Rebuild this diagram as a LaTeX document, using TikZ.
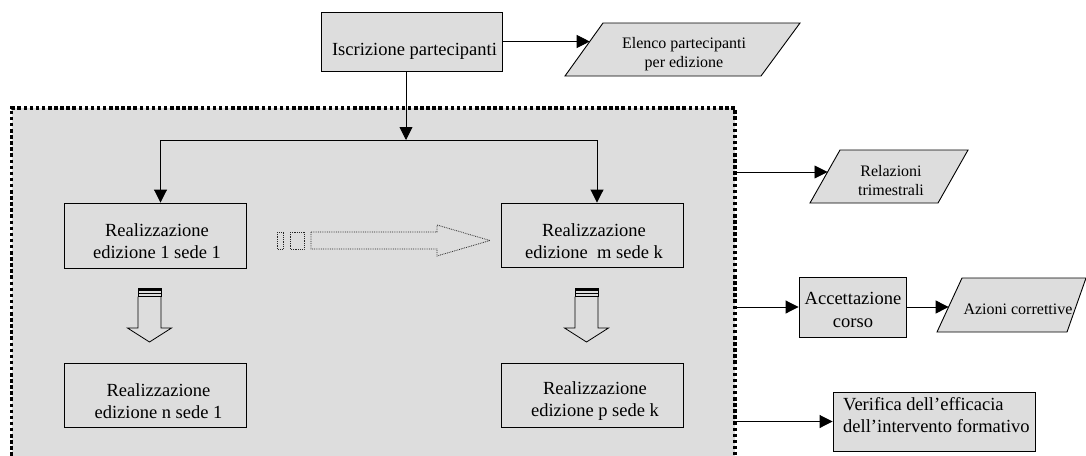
\documentclass[tikz,border=0pt]{standalone}
\usepackage{fontspec}
\setmainfont{Liberation Serif}
\usetikzlibrary{arrows.meta}
\definecolor{bg}{RGB}{221,221,221}
\begin{document}
\begin{tikzpicture}[x=1pt,y=-1pt,
  box/.style={draw=black, line width=0.9pt, inner sep=0pt},
  big/.style={font=\fontsize{18.5}{22.5}\selectfont, align=center, inner sep=0pt},
  small/.style={font=\fontsize{16}{19}\selectfont, align=center, inner sep=0pt},
  arr/.style={-{Triangle[length=13pt,width=13pt]}, line width=0.9pt},
  ln/.style={line width=0.9pt},
  para/.style={fill=bg, draw=black, line width=0.9pt, line join=miter},
  blk/.style={line width=0.8pt, line join=miter},
  dots/.style={densely dotted, line width=0.8pt, black!85}
]
\useasboundingbox (0,0) rectangle (1086,455);
\fill[white] (0,0) rectangle (1086,455);

% group background (dashed frame)
\node[draw=black, line width=3.5pt, dash pattern=on 3.5pt off 2.6pt, fill=bg,
      minimum width=723.5pt, minimum height=362pt, inner sep=0pt] (grp) at (373.25,289) {};

% top box
\node[box, fill=bg, minimum width=181pt, minimum height=59pt] (isc) at (411.5,41.5) {};
\node[big] (isct) at (414.5,51) {Iscrizione partecipanti};

% Elenco parallelogram
\filldraw[para] (565,76) -- (603,23) -- (800,23) -- (761,76) -- cycle;
\node[small] (elt) at (684,54.5) {Elenco partecipanti\\per edizione};
\coordinate (elin) at (589.7,41.5);
\draw[arr] (isc.east) -- (elin);

% edition boxes
\node[box, minimum width=182pt, minimum height=65pt] (r11) at (155,235.5) {};
\node[big] (r11t) at (157,241) {Realizzazione\\edizione 1 sede 1};
\node[box, minimum width=182pt, minimum height=64pt] (rmk) at (592,235) {};
\node[big] (rmkt) at (594,241) {Realizzazione\\edizione~ m sede k};
\node[box, minimum width=182pt, minimum height=64pt] (rn1) at (155,395) {};
\node[big] (rn1t) at (158.5,401) {Realizzazione\\edizione n sede 1};
\node[box, minimum width=182pt, minimum height=64pt] (rpk) at (592,395) {};
\node[big] (rpkt) at (595,401) {Realizzazione\\edizione p sede k};

% connectors from Iscrizione to editions
\coordinate (j) at (406,140);
\coordinate (jl) at (160.5,140);
\coordinate (jr) at (597,140);
\draw[arr] (isc.south -| j) -- (j);
\draw[ln] (jl) -- (jr);
\draw[arr] (jl) -- (jl |- r11.north);
\draw[arr] (jr) -- (jr |- rmk.north);

% hollow block arrows
\foreach \cx in {149.5,586.5}{
  \draw[blk] ({\cx-11.5},296.5) -- ({\cx-11.5},328) -- ({\cx-22},328) -- (\cx,342)
             -- ({\cx+22},328) -- ({\cx+11.5},328) -- ({\cx+11.5},296.5);
  \draw[blk] ({\cx-11.5},288) rectangle ({\cx+11.5},296.5);
  \fill ({\cx-11.5},288) rectangle ({\cx+11.5},290.5);
  \draw[line width=0.6pt] ({\cx-11.5},293.3) -- ({\cx+11.5},293.3);
}

% dotted arrow
\draw[dots] (277,232) rectangle (283,249);
\draw[dots] (290,232) rectangle (304,249);
\draw[dots] (311,232) -- (437,232) -- (437,225) -- (490,240.5) -- (437,256) -- (437,249) -- (311,249) -- cycle;

% Relazioni trimestrali
\filldraw[para] (810,203) -- (840,150) -- (968,150) -- (938,203) -- cycle;
\node[small] (relt) at (891,180.5) {Relazioni\\trimestrali};
\coordinate (relin) at (827.5,172);
\draw[arr] (grp.east |- relin) -- (relin);

% Accettazione corso
\node[box, fill=bg, minimum width=107pt, minimum height=60pt] (acc) at (852.5,307) {};
\node[big] (acct) at (853,310) {Accettazione\\corso};
\draw[arr] (grp.east |- acc.west) -- (acc.west);

% Azioni correttive
\filldraw[para] (937,332) -- (962,278) -- (1086,278) -- (1067,332) -- cycle;
\node[small] (azt) at (1018,309.7) {Azioni correttive};
\coordinate (azin) at (948.6,307);
\draw[arr] (acc.east) -- (azin);

% Verifica
\node[box, fill=bg, minimum width=202pt, minimum height=59pt] (ver) at (934,421.5) {};
\node[big, align=left, anchor=west] (vert) at (843,415) {Verifica dell'efficacia\\dell'intervento formativo};
\draw[arr] (grp.east |- ver.west) -- (ver.west);
\end{tikzpicture}
\end{document}
